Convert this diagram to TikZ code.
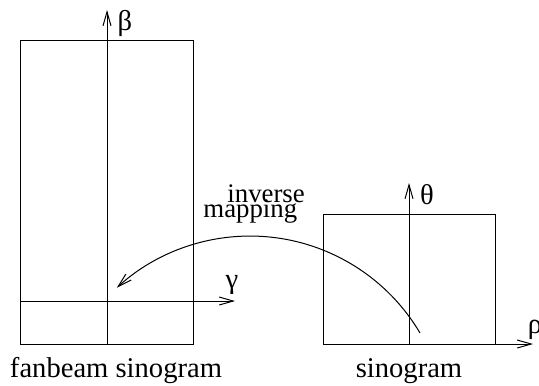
\documentclass[tikz,border=0pt]{standalone}
\usepackage{fontspec}
\setmainfont{LiberationSerif-Regular.ttf}
\usetikzlibrary{arrows.meta}

\begin{document}
\begin{tikzpicture}[
    x=0.5pt, y=-0.5pt,
    box/.style={draw, line width=0.5pt},
    axis/.style={-{Straight Barb[length=7pt, width=4pt]}, line width=0.5pt},
    label/.style={font=\fontsize{14.3}{16}\selectfont, inner sep=0pt},
    note/.style={font=\fontsize{13.4}{15}\selectfont, inner sep=0pt}
]
\useasboundingbox (0,0) rectangle (539,385);

% fanbeam sinogram
\draw[box] (20,41) rectangle (193,344);
\coordinate (B0) at (107,344);
\coordinate (B1) at (107,10);
\coordinate (G0) at (20,301);
\coordinate (G1) at (235,301);
\draw[axis] (B0) -- (B1);
\draw[axis] (G0) -- (G1);
\node[label] (beta) at (125,23) {β};
\node[label] (gamma) at (232,285) {γ};
\node[label, anchor=base] (fan) at (116,377) {fanbeam sinogram};

% sinogram
\draw[box] (323,214) rectangle (495,344);
\coordinate (T0) at (409,344);
\coordinate (T1) at (409,183);
\coordinate (R0) at (323,344);
\coordinate (R1) at (533,344);
\draw[axis] (T0) -- (T1);
\draw[axis] (R0) -- (R1);
\node[label] (theta) at (427,195) {θ};
\node[label] (rho) at (535,330) {ρ};
\node[label, anchor=base] (sino) at (409,377) {sinogram};

% inverse mapping
\coordinate (C0) at (420,333);
\draw[axis] (C0) arc[start angle=-30.6, end angle=-132.4, radius=197.5];
\node[note, anchor=base west] (inverse) at (227,202) {inverse};
\node[note, anchor=base west] (mapping) at (203,217) {mapping};

\end{tikzpicture}
\end{document}
